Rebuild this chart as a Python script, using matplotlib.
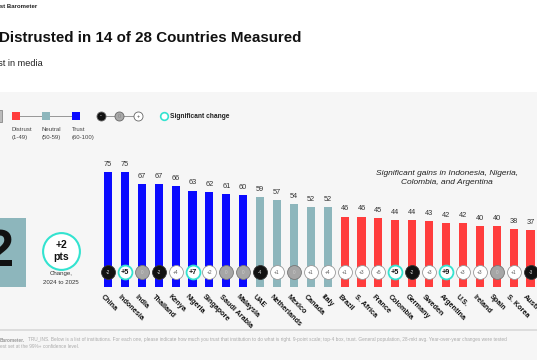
import matplotlib
matplotlib.use("Agg")
import matplotlib.pyplot as plt
from matplotlib.lines import Line2D
from matplotlib.patches import Rectangle

plt.rcParams['font.family'] = ['Liberation Sans', 'DejaVu Sans']

# data
countries = ['China', 'Indonesia', 'India', 'Thailand', 'Kenya', 'Nigeria', 'Singapore',
             'Saudi Arabia', 'Malaysia', 'UAE', 'Netherlands', 'Mexico', 'Canada', 'Italy',
             'Brazil', 'S. Africa', 'France', 'Colombia', 'Germany', 'Sweden', 'Argentina',
             'U.S.', 'Ireland', 'Spain', 'S. Korea', 'Australia']
trust = [75, 75, 67, 67, 66, 63, 62, 61, 60, 59, 57, 54, 52, 52,
         46, 46, 45, 44, 44, 43, 42, 42, 40, 40, 38, 37]
change = [-2, 5, 0, -2, 4, 7, 2, 0, 0, -4, 1, 0, 1, 4,
          1, 3, 5, 5, -2, 3, 9, 3, 3, 0, 1, -3]
significant = ['Indonesia', 'Nigeria', 'Colombia', 'Argentina']
global_avg = 52
global_change = 2

BLUE = '#0a0aff'
TEAL = '#8db6bc'
RED = '#ff3d3d'
CYAN = '#33e3d0'
BG = '#f6f6f6'

W, H = 537, 360
fig = plt.figure(figsize=(W / 100, H / 100), dpi=100)
fig.patch.set_facecolor(BG)


def fx(x):
    return x / W


def fy(y):
    return 1 - y / H


# white header band
fig.add_artist(Rectangle((0, fy(92)), 1, 92 / H, transform=fig.transFigure,
                         facecolor='white', edgecolor='none', zorder=0))

fig.text(fx(37), fy(6), '2025 Edelman Trust Barometer', ha='right', va='center',
         fontsize=4.3, fontweight='bold', color='#222')
fig.text(fx(-1), fy(38), 'Distrusted in 14 of 28 Countries Measured', ha='left', va='center',
         fontsize=10.9, fontweight='bold', color='#111')
fig.text(fx(43), fy(63), 'Percent trust in media', ha='right', va='center',
         fontsize=6.6, color='#222')

# legend
fig.add_artist(Rectangle((fx(-6), fy(122)), 8 / W, 12 / H, transform=fig.transFigure,
                         facecolor='#bbbbbb', edgecolor='#888', lw=0.6))
fig.add_artist(Line2D([fx(16), fx(76)], [fy(116), fy(116)], transform=fig.transFigure,
                      color='#888', lw=0.6))
for x, c, lab, rng in [(16, RED, 'Distrust', '(1-49)'), (46, TEAL, 'Neutral', '(50-59)'),
                       (76, BLUE, 'Trust', '(60-100)')]:
    fig.add_artist(Line2D([fx(x)], [fy(116)], transform=fig.transFigure, marker='s',
                          markersize=6, color=c, markeredgewidth=0))
    fig.text(fx(x - 4), fy(129), lab, ha='left', va='center', fontsize=4.3, color='#444')
    fig.text(fx(x - 4), fy(137), rng, ha='left', va='center', fontsize=4.3, color='#444')

fig.add_artist(Line2D([fx(101), fx(138)], [fy(116), fy(116)], transform=fig.transFigure,
                      color='#888', lw=0.6))
for x, fc, sym, tc in [(101, '#111', '-', 'white'), (119, '#a8a8a8', '0', '#888'),
                       (138, 'white', '+', '#333')]:
    fig.add_artist(Line2D([fx(x)], [fy(116)], transform=fig.transFigure, marker='o',
                          markersize=6.5, markerfacecolor=fc, markeredgecolor='#666',
                          markeredgewidth=0.6))
    fig.text(fx(x), fy(116), sym, ha='center', va='center', fontsize=4, color=tc)
fig.add_artist(Line2D([fx(164)], [fy(116)], transform=fig.transFigure, marker='o',
                      markersize=5.5, markerfacecolor='white', markeredgecolor=CYAN,
                      markeredgewidth=1.2))
fig.text(fx(170), fy(116), 'Significant change', ha='left', va='center',
         fontsize=4.8, fontweight='bold', color='#222')

# global average box
fig.add_artist(Rectangle((0, fy(287)), 26 / W, 69 / H, transform=fig.transFigure,
                         facecolor=TEAL, edgecolor='none'))
fig.text(fx(14), fy(253), str(global_avg), ha='right', va='center', fontsize=37,
         fontweight='bold', color='#111')
fig.add_artist(Line2D([fx(61)], [fy(251)], transform=fig.transFigure, marker='o',
                      markersize=26.5, markerfacecolor='white', markeredgecolor=CYAN,
                      markeredgewidth=1.5))
fig.text(fx(61), fy(245), '+%d' % global_change, ha='center', va='center', fontsize=7.5,
         fontweight='bold', color='#111')
fig.text(fx(61), fy(257), 'pts', ha='center', va='center', fontsize=7.5,
         fontweight='bold', color='#111')
fig.text(fx(61), fy(274), 'Change,', ha='center', va='center', fontsize=4.4, color='#333')
fig.text(fx(61), fy(282), '2024 to 2025', ha='center', va='center', fontsize=4.4, color='#333')

# bar chart
step = 16.9
x0 = 108
ax_left, ax_right, ax_top, ax_bot = 90, W, 140, 287
ax = fig.add_axes([fx(ax_left), fy(ax_bot), (ax_right - ax_left) / W, (ax_bot - ax_top) / H])
ax.set_facecolor('none')
ax.set_xlim(-(x0 - ax_left) / step, (ax_right - x0) / step)
px_per_unit = 1.53
ax.set_ylim(0, (ax_bot - ax_top) / px_per_unit)
for s in ax.spines.values():
    s.set_visible(False)
ax.set_xticks([])
ax.set_yticks([])

colors = [BLUE if v >= 60 else TEAL if v >= 50 else RED for v in trust]
xs = list(range(len(countries)))
ax.bar(xs, trust, width=0.48, color=colors, zorder=1)

for i, v in enumerate(trust):
    ax.annotate(str(v), (i, v), xytext=(0, 5.5), textcoords='offset points', ha='center',
                va='center', fontsize=5.3, color='#333')

cy = 15 / px_per_unit
for i, (c, name) in enumerate(zip(change, countries)):
    sig = name in significant
    if sig:
        fc, ec, lw, tc = 'white', CYAN, 1.3, '#111'
    elif c < 0:
        fc, ec, lw, tc = '#111', '#333', 0.6, '#ddd'
    elif c == 0:
        fc, ec, lw, tc = '#a6a6a6', '#777', 0.6, '#ccc'
    else:
        fc, ec, lw, tc = 'white', '#999', 0.6, '#555'
    ax.scatter([i], [cy], s=100, facecolor=fc, edgecolor=ec, linewidth=lw, zorder=3)
    lab = '%+d' % c if c != 0 else '0'
    ax.text(i, cy, lab, ha='center', va='center', zorder=4,
            fontsize=5.2 if sig else 3.4, fontweight='bold' if sig else 'normal', color=tc)
    ax.text(i - 0.22, -4.0, name, rotation=-45, rotation_mode='anchor', ha='left', va='top',
            fontsize=5.2, fontweight='bold', color='#111', clip_on=False)

fig.text(fx(447), fy(173), 'Significant gains in Indonesia, Nigeria,', ha='center',
         va='center', fontsize=6.0, style='italic', color='#222')
fig.text(fx(447), fy(183), 'Colombia, and Argentina', ha='center', va='center',
         fontsize=6.0, style='italic', color='#222')

# footnote
fig.add_artist(Line2D([0, 1], [fy(330), fy(330)], transform=fig.transFigure,
                      color='#d8d8d8', lw=1.2))
fig.text(fx(0), fy(340), 'Barometer.', ha='left', va='center', fontsize=3.4,
         fontweight='bold', color='#999')
fig.text(fx(28), fy(340), 'TRU_INS. Below is a list of institutions. For each one, please indicate '
         'how much you trust that institution to do what is right. 9-point scale; top-4 box, trust. '
         'General population, 28-mkt avg. Year-over-year changes were tested',
         ha='left', va='center', fontsize=3.4, color='#aaa')
fig.text(fx(0), fy(347), 'est set at the 99%+ confidence level.', ha='left', va='center',
         fontsize=3.4, color='#aaa')

fig.savefig('out.png', dpi=100, facecolor=fig.get_facecolor())
